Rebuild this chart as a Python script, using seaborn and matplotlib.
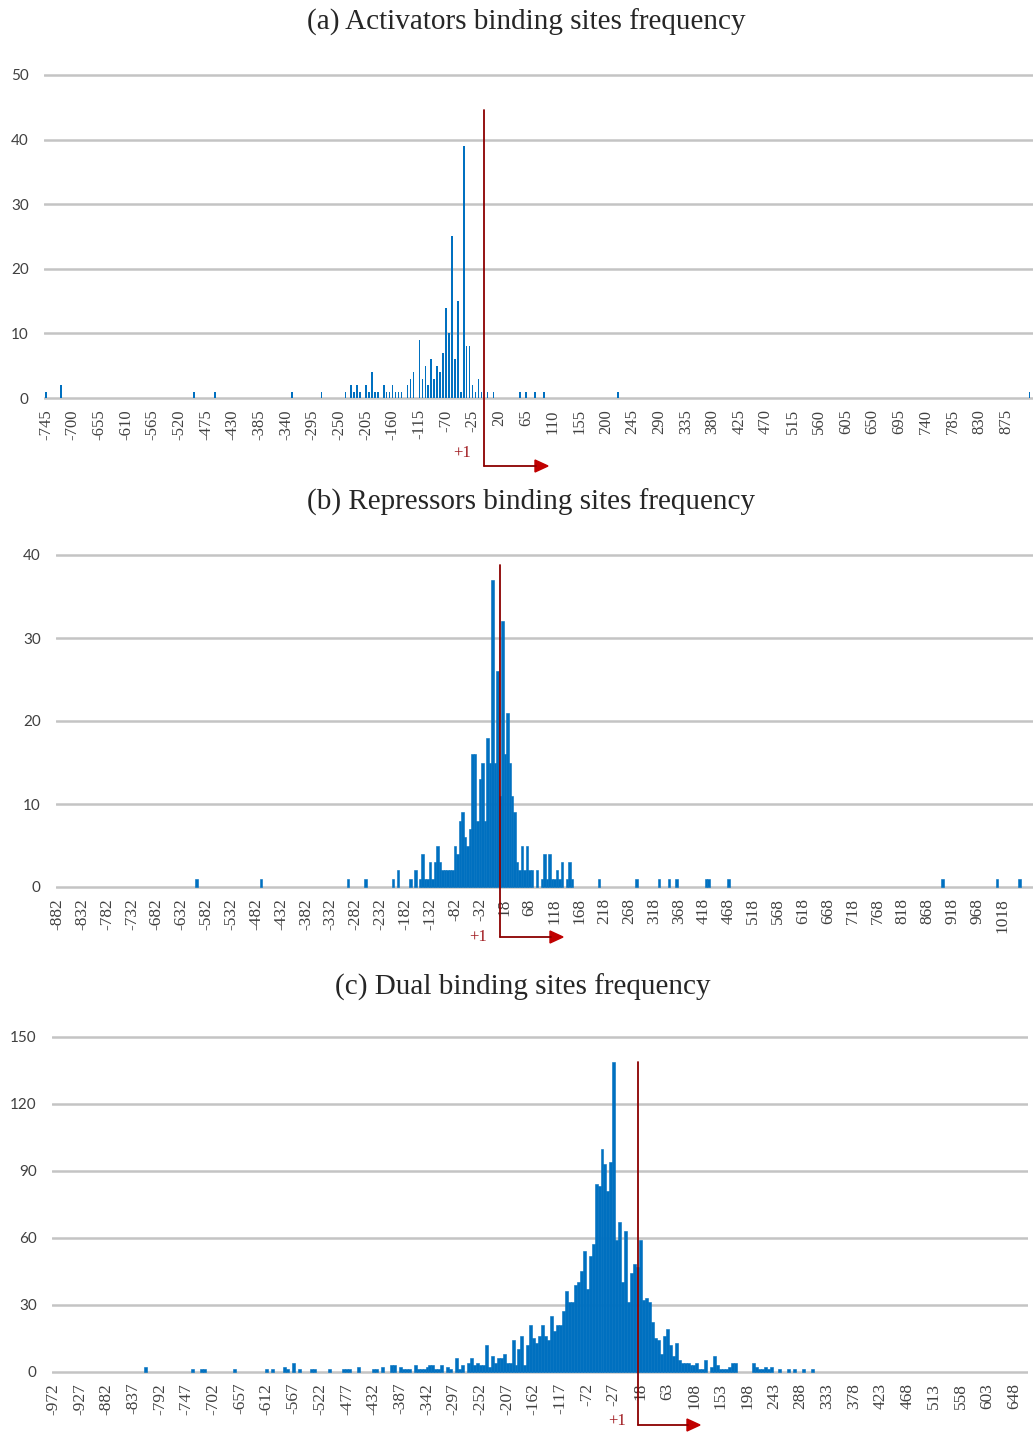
import numpy as np
import pandas as pd
import matplotlib
matplotlib.use("Agg")
import matplotlib.pyplot as plt
import seaborn as sns
from matplotlib.lines import Line2D
from matplotlib.patches import Polygon

# ---------------- data ----------------
# (a) Activators: binding-site position (5-bp bins) and frequency
act_pos = [-745, -720, -495, -460, -330, -280, -240, -230, -225, -220, -215, -205, -200,
           -195, -190, -185, -175, -170, -165, -160, -155, -150, -145, -135, -130, -125,
           -115, -110, -105, -100, -95, -90, -85, -80, -75, -70, -65, -60, -55, -50, -45,
           -40, -35, -30, -25, -20, -15, -10, 0, 10, 55, 65, 80, 95, 220, 915]
act_cnt = [1, 2, 1, 1, 1, 1, 1, 2, 1, 2, 1, 2, 1,
           4, 1, 1, 2, 1, 1, 2, 1, 1, 1, 2, 3, 4,
           9, 3, 5, 2, 6, 3, 5, 4, 7, 14, 10, 25, 6, 15, 1,
           39, 8, 8, 2, 1, 3, 1, 1, 1, 1, 1, 1, 1, 1, 1]

# (b) Repressors
rep_pos = [-602, -472, -297, -262, -207, -197, -172, -162, -152, -147, -142, -137, -132,
           -127, -122, -117, -112, -107, -102, -97, -92, -87, -82, -77, -72, -67, -62,
           -57, -52, -47, -42, -37, -32, -27, -22, -17, -12, -7, -2, 3, 8, 13, 18, 23,
           28, 33, 38, 43, 48, 53, 58, 63, 68, 73, 83, 93, 98, 103, 108, 113, 118, 123,
           128, 133, 143, 148, 153, 208, 283, 328, 348, 363, 423, 428, 468, 898, 1008, 1053]
rep_cnt = [1, 1, 1, 1, 1, 2, 1, 2, 1, 4, 1, 1, 3,
           1, 3, 5, 3, 2, 2, 2, 2, 2, 5, 4, 8, 9, 6,
           5, 7, 16, 16, 8, 13, 15, 8, 18, 15, 37, 15, 26, 11, 32, 16, 21,
           15, 11, 9, 3, 2, 5, 2, 5, 2, 2, 2, 1, 4, 1, 4, 1, 1, 2,
           1, 3, 1, 3, 1, 1, 1, 1, 1, 1, 1, 1, 1, 1, 1, 1]

# (c) Dual
dual_pos = [-817, -737, -722, -717, -667, -612, -602, -582, -577, -567, -557, -537, -532,
            -507, -482, -477, -472, -457, -432, -427, -417, -402, -397, -387, -382, -377,
            -372, -362, -357, -352, -347, -342, -337, -332, -327, -322, -317, -307, -302,
            -292, -287, -282, -272, -267, -262, -257, -252, -247, -242, -237, -232, -227,
            -222, -217, -212, -207, -202, -197, -192, -187, -182, -177, -172, -167, -162,
            -157, -152, -147, -142, -137, -132, -127, -122, -117, -112, -107, -102, -97,
            -92, -87, -82, -77, -72, -67, -62, -57, -52, -47, -42, -37, -32, -27, -22,
            -17, -12, -7, -2, 3, 8, 13, 18, 23, 28, 33, 38, 43, 48, 53, 58, 63, 68, 73,
            78, 83, 88, 93, 98, 103, 108, 113, 118, 123, 128, 138, 143, 148, 153, 158,
            163, 168, 173, 178, 208, 213, 218, 223, 228, 233, 238, 253, 268, 278, 293, 308]
dual_cnt = [2, 1, 1, 1, 1, 1, 1, 2, 1, 4, 1, 1, 1,
            1, 1, 1, 1, 2, 1, 1, 2, 3, 3, 2, 1, 1,
            1, 3, 1, 1, 1, 2, 3, 3, 1, 1, 3, 2, 1,
            6, 1, 3, 4, 6, 3, 4, 3, 3, 12, 2, 7, 4,
            6, 6, 8, 4, 4, 14, 3, 10, 16, 3, 12, 21, 15,
            13, 16, 21, 16, 14, 25, 18, 21, 21, 27, 36, 31, 31,
            39, 40, 45, 54, 37, 52, 57, 84, 83, 100, 93, 81, 94, 139, 59,
            67, 40, 63, 31, 44, 48, 47, 59, 32, 33, 31, 22, 15, 14, 8, 16, 19, 12, 7,
            13, 5, 4, 4, 4, 3, 3, 4, 1, 1, 5, 2, 7, 3, 1, 1,
            1, 2, 4, 4, 4, 2, 1, 1, 2, 1, 2, 1, 1, 1, 1, 1]

# axis categories (5-bp bins)
act_bins = list(range(-745, 916, 5))
rep_bins = list(range(-882, 1054, 5))
dual_bins = list(range(-972, 669, 5))

titles = ["(a) Activators binding sites frequency",
          "(b) Repressors binding sites frequency",
          "(c) Dual binding sites frequency"]

# ---------------- figure ----------------
W, H = 1033, 1432
sns.set_theme(style="white")
plt.rcParams["font.family"] = ["Liberation Serif", "DejaVu Serif"]
fig = plt.figure(figsize=(W / 100, H / 100), dpi=100)

BLUE = "#0070C0"
GRID = "#C4C4C4"


def fp(x, y):
    return (x / W, 1 - y / H)


def panel(pos, cnt, bins, label_step, ymax, ystep, left, right, top, bottom,
          x0px, dxpx, width, lw, xfs):
    pad = 3
    ppu = (bottom - top) / ymax
    ax = fig.add_axes([left / W, 1 - (bottom + pad) / H, (right - left) / W,
                       (bottom - top + 2 * pad) / H])
    df = pd.DataFrame({"pos": pos, "count": cnt})
    sns.barplot(data=df, x="pos", y="count", order=bins, color=BLUE, saturation=1,
                width=width, errorbar=None, linewidth=lw, edgecolor=BLUE, ax=ax)
    ax.set_ylim(-pad / ppu, ymax + pad / ppu)
    ax.set_xlim((left - x0px) / dxpx, (right - x0px) / dxpx)
    yt = np.arange(0, ymax + 1, ystep)
    ax.set_yticks(yt)
    ax.set_yticklabels([str(int(v)) for v in yt],
                       family=["Lato", "DejaVu Sans"], fontsize=11, color="#404040")
    idx = list(range(0, len(bins), label_step))
    ax.set_xticks(idx)
    ax.set_xticklabels([str(bins[i]) for i in idx], rotation=90, fontsize=xfs,
                       color="#404040", va="top", ha="center")
    ax.tick_params(axis="y", length=0, pad=11)
    ax.tick_params(axis="x", length=0, pad=6)
    ax.yaxis.grid(True, color=GRID, lw=1.8)
    ax.xaxis.grid(False)
    ax.set_axisbelow(True)
    for s in ax.spines.values():
        s.set_visible(False)
    ax.set_xlabel("")
    ax.set_ylabel("")
    ax.patch.set_alpha(0)
    return ax


axa = panel(act_pos, act_cnt, act_bins, 9, 50, 10, 44, 1033, 75, 398, 46, 2.963, 0.5, 0, 12)
axb = panel(rep_pos, rep_cnt, rep_bins, 10, 40, 10, 56, 1033, 555, 887, 57.3, 2.486, 1.0, 0.4, 12.5)
axc = panel(dual_pos, dual_cnt, dual_bins, 9, 150, 30, 52, 1028, 1037, 1371.5, 53.3, 2.966, 1.0, 0.4, 12.5)

# titles
for t, (x, y) in zip(titles, [(526, 22), (531, 502), (523, 987)]):
    fig.text(*fp(x, y), t, ha="center", va="center", fontsize=21, color="#262626")

# +1 transcription start markers
DARK = "#8B0000"
RED = "#C00000"


def tss(xv, ytop, ybot, xend, lab):
    a = fp(xv, ytop)
    b = fp(xv, ybot)
    c = fp(xend - 12, ybot)
    fig.add_artist(Line2D([a[0], b[0]], [a[1], b[1]], color=DARK, lw=1.3,
                          transform=fig.transFigure))
    fig.add_artist(Line2D([b[0], c[0]], [b[1], c[1]], color=DARK, lw=1.3,
                          transform=fig.transFigure))
    head = [fp(xend - 13, ybot - 6), fp(xend, ybot), fp(xend - 13, ybot + 6)]
    fig.add_artist(Polygon(head, closed=True, color=RED, transform=fig.transFigure))
    fig.text(*fp(*lab), "+1", ha="center", va="center", fontsize=12, color="#A0191E")


tss(484, 110, 466, 548, (462, 453))
tss(500, 565, 937, 563, (478, 937))
tss(638, 1062, 1425, 700, (617, 1421))

fig.savefig("out.png", dpi=100, facecolor="white")
